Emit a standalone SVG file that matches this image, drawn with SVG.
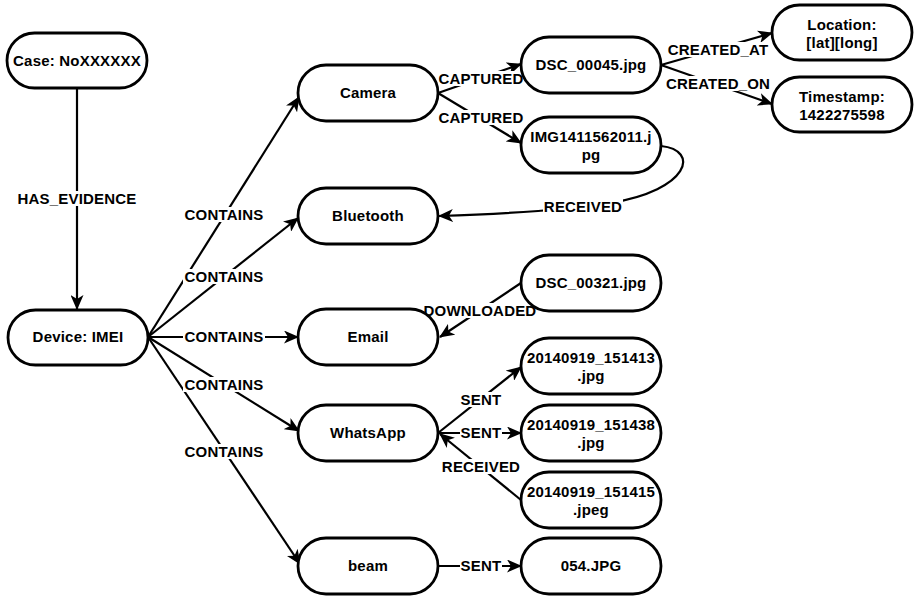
<svg xmlns="http://www.w3.org/2000/svg" width="918" height="596" viewBox="0 0 918 596">
<style>
.node rect{fill:#fff;stroke:#000;stroke-width:2.8}
text{font-family:"Liberation Sans",Arial,sans-serif;font-weight:bold;font-size:15px;fill:#000;text-anchor:middle;letter-spacing:0.2px}
.edge{fill:none;stroke:#000;stroke-width:2.2;marker-end:url(#arr)}
.lbl rect{fill:#fff;stroke:none}
</style>
<defs>
<marker id="arr" markerUnits="userSpaceOnUse" viewBox="0 0 15 13" refX="14" refY="6.5" markerWidth="15" markerHeight="13" orient="auto">
<path d="M0,0 L15,6.5 L0,13 L4,6.5 Z" fill="#000"/>
</marker>
</defs>
<rect width="918" height="596" fill="#fff"/>
<g id="connectors">
<path class="edge" d="M77 88 L77 309"/>
<path class="edge" d="M148 337 L299 97"/>
<path class="edge" d="M148 337 L298 218"/>
<path class="edge" d="M148 337 L298 337"/>
<path class="edge" d="M148 337 L299 431"/>
<path class="edge" d="M148 337 L300 564"/>
<path class="edge" d="M438 93 L521 64"/>
<path class="edge" d="M438 93 L521 143"/>
<path class="edge" d="M661 65 L772 33"/>
<path class="edge" d="M661 65 L772 104"/>
<path class="edge" d="M661 146 C 700 150, 690 190, 610 203 C 560 211, 500 214, 439 216"/>
<path class="edge" d="M521 283 L440 337"/>
<path class="edge" d="M438 433 L521 367"/>
<path class="edge" d="M438 433 L521 433"/>
<path class="edge" d="M521 500 L440 434"/>
<path class="edge" d="M438 566 L521 566"/>
<g class="lbl">
<rect x="15" y="191" width="124" height="15"/><text x="77" y="204">HAS_EVIDENCE</text>
<rect x="183" y="207" width="82" height="15"/><text x="224" y="220">CONTAINS</text>
<rect x="183" y="269" width="82" height="15"/><text x="224" y="282">CONTAINS</text>
<rect x="183" y="329" width="82" height="15"/><text x="224" y="342">CONTAINS</text>
<rect x="183" y="377" width="82" height="15"/><text x="224" y="390">CONTAINS</text>
<rect x="183" y="444" width="82" height="15"/><text x="224" y="457">CONTAINS</text>
<rect x="438" y="71" width="86" height="15"/><text x="481" y="84">CAPTURED</text>
<rect x="438" y="110" width="86" height="15"/><text x="481" y="123">CAPTURED</text>
<rect x="666" y="42" width="104" height="15"/><text x="718" y="55">CREATED_AT</text>
<rect x="665" y="76" width="106" height="15"/><text x="718" y="89">CREATED_ON</text>
<rect x="543" y="199" width="80" height="15"/><text x="583" y="212">RECEIVED</text>
<rect x="422" y="303" width="116" height="15"/><text x="480" y="316">DOWNLOADED</text>
<rect x="460" y="392" width="42" height="15"/><text x="481" y="405">SENT</text>
<rect x="460" y="425" width="42" height="15"/><text x="481" y="438">SENT</text>
<rect x="441" y="459" width="80" height="15"/><text x="481" y="472">RECEIVED</text>
<rect x="460" y="558" width="42" height="15"/><text x="481" y="571">SENT</text>
</g>
</g>
<g id="case" class="node"><rect x="7" y="33" width="140" height="55" rx="27.5"/><text x="77" y="66">Case: NoXXXXXX</text></g>
<g id="device" class="node"><rect x="8" y="310" width="140" height="55" rx="27.5"/><text x="78" y="342">Device: IMEI</text></g>
<g id="camera" class="node"><rect x="298" y="65" width="140" height="56" rx="28"/><text x="368" y="98">Camera</text></g>
<g id="bluetooth" class="node"><rect x="298" y="188" width="140" height="56" rx="28"/><text x="368" y="221">Bluetooth</text></g>
<g id="email" class="node"><rect x="298" y="309" width="140" height="56" rx="28"/><text x="368" y="342">Email</text></g>
<g id="whatsapp" class="node"><rect x="298" y="405" width="140" height="56" rx="28"/><text x="368" y="438">WhatsApp</text></g>
<g id="beam" class="node"><rect x="298" y="538" width="140" height="56" rx="28"/><text x="368" y="571">beam</text></g>
<g id="dsc00045" class="node"><rect x="521" y="37" width="140" height="56" rx="28"/><text x="591" y="70">DSC_00045.jpg</text></g>
<g id="img1411562011" class="node"><rect x="521" y="117" width="140" height="56" rx="28"/><text x="591" y="142">IMG1411562011.j</text><text x="591" y="160">pg</text></g>
<g id="dsc00321" class="node"><rect x="521" y="255" width="140" height="56" rx="28"/><text x="591" y="288">DSC_00321.jpg</text></g>
<g id="f151413" class="node"><rect x="521" y="338" width="140" height="56" rx="28"/><text x="591" y="363">20140919_151413</text><text x="591" y="381">.jpg</text></g>
<g id="f151438" class="node"><rect x="521" y="405" width="140" height="56" rx="28"/><text x="591" y="430">20140919_151438</text><text x="591" y="448">.jpg</text></g>
<g id="f151415" class="node"><rect x="521" y="472" width="140" height="56" rx="28"/><text x="591" y="497">20140919_151415</text><text x="591" y="515">.jpeg</text></g>
<g id="f054" class="node"><rect x="521" y="538" width="140" height="56" rx="28"/><text x="591" y="571">054.JPG</text></g>
<g id="location" class="node"><rect x="772" y="5" width="140" height="55" rx="27.5"/><text x="842" y="30">Location:</text><text x="842" y="48">[lat][long]</text></g>
<g id="timestamp" class="node"><rect x="772" y="77" width="140" height="55" rx="27.5"/><text x="842" y="102">Timestamp:</text><text x="842" y="120">1422275598</text></g>
</svg>
